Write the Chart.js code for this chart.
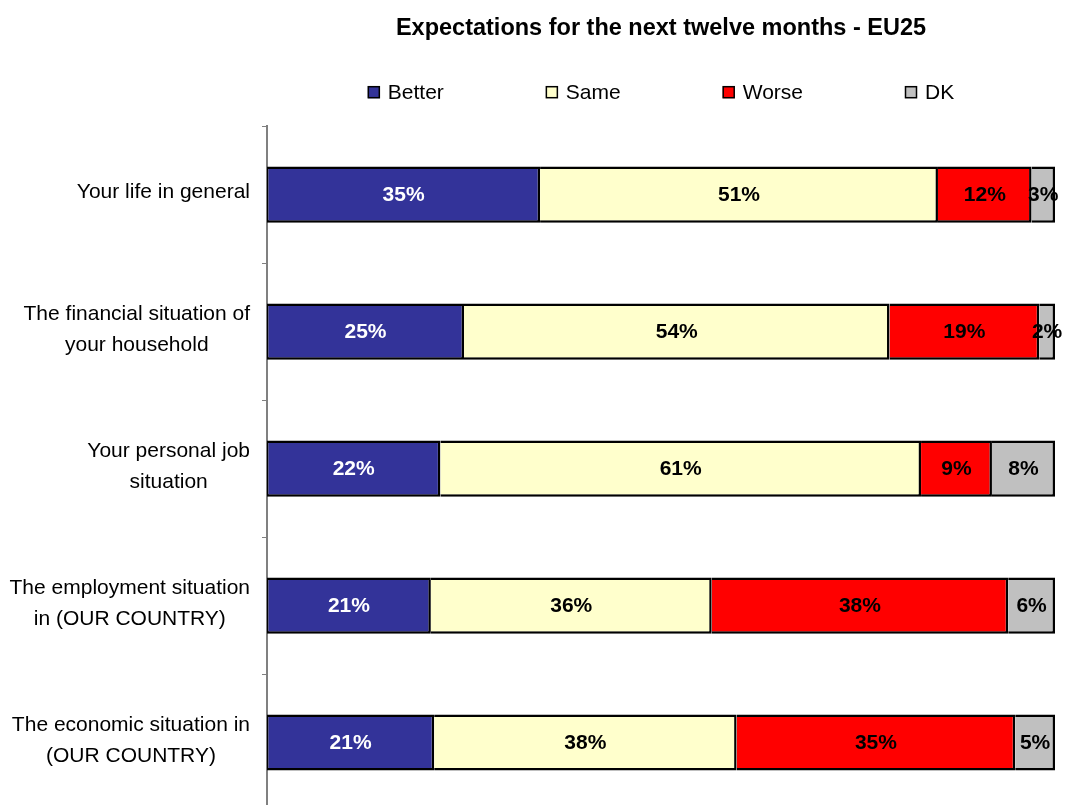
<!DOCTYPE html>
<html>
<head>
<meta charset="utf-8">
<title>Expectations for the next twelve months - EU25</title>
<script src="https://cdn.jsdelivr.net/npm/chart.js@4/dist/chart.umd.min.js"></script>
<style>
    html, body { margin: 0; padding: 0; background: #fff; overflow: hidden; }
    #wrap { width: 1067px; height: 811px; }
</style>
</head>
<body>
<div id="wrap"><canvas id="chart" width="1067" height="811"></canvas></div>
<script>
// カテゴリ（複数行ラベル）
const categories = [
    ['Your life in general'],
    ['The financial situation of', 'your household'],
    ['Your personal job', 'situation'],
    ['The employment situation', 'in (OUR COUNTRY)'],
    ['The economic situation in', '(OUR COUNTRY)']
];
const seriesNames = ['Better', 'Same', 'Worse', 'DK'];
const seriesColors = ['#333399', '#FFFFCC', '#FF0000', '#C0C0C0'];
const labelColors = ['#FFFFFF', '#000000', '#000000', '#000000'];

// 回答 (%)
const better = [35, 25, 22, 21, 21];
const same = [51, 54, 61, 36, 38];
const worse = [12, 19, 9, 38, 35];
const dk = [3, 2, 8, 6, 5];

const FONT = '"Liberation Sans", Arial, sans-serif';
const rawSeries = [better, same, worse, dk];

// 行ごとに100%に揃える（元のグラフも100%積み上げ）
const rowTotals = categories.map((c, i) => rawSeries.reduce((s, arr) => s + arr[i], 0));
const datasets = rawSeries.map((arr, d) => ({
    label: seriesNames[d],
    data: arr.map((v, i) => v / rowTotals[i] * 100),
    backgroundColor: seriesColors[d],
    borderColor: '#000000',
    // 区切り線は右側だけ描いて二重線にならないようにする
    borderWidth: { top: 2.5, bottom: 2.5, left: d === 0 ? 1.5 : 0, right: 2.5 },
    borderSkipped: false,
    barPercentage: 0.41,
    categoryPercentage: 1
}));

// 棒の中の数値
const valueLabels = {
    id: 'valueLabels',
    afterDatasetsDraw(chart) {
        const ctx = chart.ctx;
        ctx.save();
        ctx.font = 'bold 21px ' + FONT;
        ctx.textAlign = 'center';
        ctx.textBaseline = 'middle';
        chart.data.datasets.forEach((ds, d) => {
            const meta = chart.getDatasetMeta(d);
            ctx.fillStyle = labelColors[d];
            meta.data.forEach((bar, i) => {
                const p = bar.getProps(['x', 'base', 'y'], true);
                ctx.fillText(rawSeries[d][i] + '%', (p.x + p.base) / 2, p.y + 1);
            });
        });
        ctx.restore();
    }
};

// 縦軸のラベル（ブロックは右寄せ、行は中央揃え）
const categoryLabels = {
    id: 'categoryLabels',
    afterDraw(chart) {
        const ctx = chart.ctx;
        const yScale = chart.scales.y;
        ctx.save();
        ctx.font = '21px ' + FONT;
        ctx.fillStyle = '#000';
        ctx.textAlign = 'center';
        ctx.textBaseline = 'middle';
        categories.forEach((lines, i) => {
            const cy = yScale.getPixelForValue(i) - 2;
            const maxW = Math.max(...lines.map(l => ctx.measureText(l).width));
            const cx = yScale.right - 17 - maxW / 2;
            lines.forEach((line, j) => {
                ctx.fillText(line, cx, cy + (j - (lines.length - 1) / 2) * 31);
            });
        });
        ctx.restore();
    }
};

// 凡例（項目間の間隔を広く取る）
const wideLegend = {
    id: 'wideLegend',
    afterDraw(chart) {
        const ctx = chart.ctx;
        const area = chart.chartArea;
        const box = 12, gapText = 8, gapItem = 102;
        ctx.save();
        ctx.font = '21px ' + FONT;
        ctx.textBaseline = 'middle';
        ctx.textAlign = 'left';
        const widths = seriesNames.map(n => box + gapText + ctx.measureText(n).width);
        const total = widths.reduce((a, b) => a + b, 0) + gapItem * (widths.length - 1);
        let x = (area.left + area.right) / 2 - total / 2;
        const y = area.top - 34;
        seriesNames.forEach((name, i) => {
            ctx.fillStyle = seriesColors[i];
            ctx.fillRect(x, y - box / 2, box, box);
            ctx.strokeStyle = '#000';
            ctx.lineWidth = 1.5;
            ctx.strokeRect(x + 0.5, y - box / 2 + 0.5, box - 1, box - 1);
            ctx.fillStyle = '#000';
            ctx.fillText(name, x + box + gapText, y + 1);
            x += widths[i] + gapItem;
        });
        ctx.restore();
    }
};

Chart.defaults.color = '#000';
Chart.defaults.font.family = FONT;

new Chart(document.getElementById('chart'), {
    type: 'bar',
    data: {
        labels: categories,
        datasets: datasets
    },
    options: {
        indexAxis: 'y',
        responsive: false,
        animation: false,
        layout: { padding: { top: 14, right: 12, bottom: 0, left: 0 } },
        scales: {
            x: { stacked: true, display: false, min: 0, max: 100 },
            y: {
                stacked: true,
                offset: true,
                grid: {
                    display: true,
                    offset: true,
                    drawOnChartArea: false,
                    drawTicks: true,
                    tickLength: 5,
                    color: '#808080'
                },
                border: { display: true, color: '#808080', width: 2 },
                ticks: { display: false },
                afterFit: function(scale) { scale.width = 267; }
            }
        },
        plugins: {
            legend: { display: false },
            tooltip: { enabled: false },
            title: {
                display: true,
                fullSize: false,
                text: 'Expectations for the next twelve months - EU25',
                font: { size: 23.5, weight: 'bold', family: FONT },
                color: '#000',
                padding: { top: 0, bottom: 84 }
            }
        }
    },
    plugins: [valueLabels, categoryLabels, wideLegend]
});
</script>
</body>
</html>
